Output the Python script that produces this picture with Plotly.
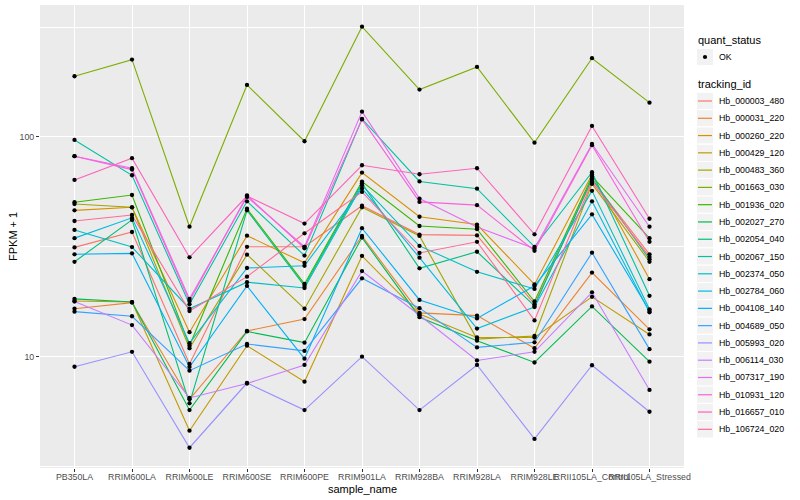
import math
import plotly.graph_objects as go

# ---------------- data ----------------
samples = ["PB350LA", "RRIM600LA", "RRIM600LE", "RRIM600SE", "RRIM600PE",
           "RRIM901LA", "RRIM928BA", "RRIM928LA", "RRIM928LE",
           "RRII105LA_Control", "RRII105LA_Stressed"]

tracking_ids = ["Hb_000003_480", "Hb_000031_220", "Hb_000260_220", "Hb_000429_120",
                "Hb_000483_360", "Hb_001663_030", "Hb_001936_020", "Hb_002027_270",
                "Hb_002054_040", "Hb_002067_150", "Hb_002374_050", "Hb_002784_060",
                "Hb_004108_140", "Hb_004689_050", "Hb_005993_020", "Hb_006114_030",
                "Hb_007317_190", "Hb_010931_120", "Hb_016657_010", "Hb_106724_020"]

quant_status = ["OK"]

# FPKM + 1 per sample (order of `samples`)
hb_000003_480 = [31.4, 36.9, 9.24, 31.6, 31.6, 48.6, 35.9, 35.6, 17.3, 63.7, 29.2]
hb_000031_220 = [16.5, 17.6, 6.38, 13.07, 14.8, 35.4, 15.8, 15.35, 10.9, 24.1, 13.3]
hb_000260_220 = [46.3, 47.8, 12.9, 35.5, 26.7, 68.8, 43.3, 39.9, 21.3, 67.5, 22.5]
hb_000429_120 = [17.9, 17.7, 4.59, 11.2, 7.68, 28.7, 15.6, 12.2, 12.2, 18.7, 12.6]
hb_000483_360 = [49.5, 47.8, 10.9, 29.1, 16.5, 47.8, 35.4, 12.0, 12.4, 61.1, 27.0]
hb_001663_030 = [189.0, 225.0, 39.0, 172.5, 95.6, 318.0, 164.3, 208.4, 94.2, 228.4, 143.3]
hb_001936_020 = [50.4, 54.4, 11.2, 47.1, 21.4, 62.6, 39.3, 38.0, 17.8, 66.1, 34.6]
hb_002027_270 = [18.3, 17.7, 5.70, 13.0, 11.56, 34.8, 15.1, 11.8, 9.39, 16.9, 9.47]
hb_002054_040 = [27.0, 41.9, 6.12, 46.3, 20.96, 61.5, 25.2, 30.0, 17.0, 64.7, 27.7]
hb_002067_150 = [96.9, 66.9, 17.3, 50.9, 28.8, 120.8, 62.7, 58.1, 31.6, 69.1, 18.9]
hb_002374_050 = [37.7, 31.5, 16.5, 21.8, 20.5, 60.3, 31.9, 24.3, 20.3, 56.8, 16.4]
hb_002784_060 = [34.6, 42.8, 11.5, 25.3, 25.9, 58.3, 28.2, 13.4, 16.8, 50.9, 15.9]
hb_004108_140 = [29.2, 29.5, 8.96, 20.96, 9.77, 38.4, 18.1, 14.9, 21.0, 44.4, 16.1]
hb_004689_050 = [16.0, 15.25, 8.62, 11.4, 10.6, 22.7, 16.6, 11.0, 11.6, 29.7, 10.8]
hb_005993_020 = [8.98, 10.5, 3.84, 7.57, 5.70, 9.98, 5.70, 9.15, 4.21, 9.12, 5.60]
hb_006114_030 = [17.8, 13.9, 6.47, 7.53, 9.15, 24.5, 15.4, 9.59, 10.5, 19.6, 7.04]
hb_007317_190 = [81.7, 72.0, 18.3, 53.3, 31.6, 130.4, 52.4, 38.9, 31.0, 92.9, 39.0]
hb_010931_120 = [81.7, 71.0, 17.9, 54.1, 31.1, 120.2, 50.6, 48.9, 30.3, 91.7, 33.3]
hb_016657_010 = [63.7, 80.0, 28.3, 53.8, 40.3, 74.3, 67.6, 72.0, 36.0, 112.2, 42.4]
hb_106724_020 = [41.4, 44.1, 16.1, 23.1, 36.4, 56.2, 29.6, 33.3, 14.6, 62.4, 28.4]

series = [hb_000003_480, hb_000031_220, hb_000260_220, hb_000429_120, hb_000483_360,
          hb_001663_030, hb_001936_020, hb_002027_270, hb_002054_040, hb_002067_150,
          hb_002374_050, hb_002784_060, hb_004108_140, hb_004689_050, hb_005993_020,
          hb_006114_030, hb_007317_190, hb_010931_120, hb_016657_010, hb_106724_020]

y_ticks = [10, 100]
y_tick_labels = ["10", "100"]


# ---------------- ggplot hue palette ----------------
def hcl_hex(h, c=100.0, l=65.0):
    Xn, Yn, Zn = 95.047, 100.0, 108.883
    un = 4 * Xn / (Xn + 15 * Yn + 3 * Zn)
    vn = 9 * Yn / (Xn + 15 * Yn + 3 * Zn)
    u = c * math.cos(math.radians(h))
    v = c * math.sin(math.radians(h))
    Y = Yn * ((l + 16) / 116) ** 3 if l > 8 else Yn * l / 903.3
    up = u / (13 * l) + un
    vp = v / (13 * l) + vn
    X = Y * 9 * up / (4 * vp)
    Z = Y * (12 - 3 * up - 20 * vp) / (4 * vp)
    X, Y, Z = X / 100, Y / 100, Z / 100
    r = 3.240479 * X - 1.537150 * Y - 0.498535 * Z
    g = -0.969256 * X + 1.875992 * Y + 0.041556 * Z
    b = 0.055648 * X - 0.204043 * Y + 1.057311 * Z

    def gam(t):
        t = 12.92 * t if t <= 0.0031308 else 1.055 * t ** (1 / 2.4) - 0.055
        return max(0, min(255, round(t * 255)))
    return "#%02X%02X%02X" % (gam(r), gam(g), gam(b))


n = len(tracking_ids)
colors = [hcl_hex(15 + 360 * i / n) for i in range(n)]

FONT = "Liberation Sans, Arial, Helvetica, sans-serif"

fig = go.Figure()
for tid, vals, col in zip(tracking_ids, series, colors):
    fig.add_trace(go.Scatter(x=samples, y=vals, mode="lines", name=tid,
                             line=dict(color=col, width=1.1), showlegend=False))
for tid, vals in zip(tracking_ids, series):
    fig.add_trace(go.Scatter(x=samples, y=vals, mode="markers", name=tid,
                             marker=dict(color="black", size=4.3), showlegend=False))

# ---------------- layout geometry (pixels) ----------------
W, H = 800, 500
PL, PR, PT, PB = 40, 684, 5, 468


def px(x):
    return (x - PL) / (PR - PL)


def py(y):
    return (PB - y) / (PB - PT)


shapes = []
annotations = []

# legend: quant_status
annotations.append(dict(x=px(696), y=py(40.5), xref="paper", yref="paper", text="quant_status",
                        showarrow=False, xanchor="left", yanchor="middle",
                        font=dict(size=11, color="black", family=FONT)))
kx0, kx1 = 696.5, 713.5
ky = 57.0
shapes.append(dict(type="rect", xref="paper", yref="paper",
                   x0=px(kx0), x1=px(kx1), y0=py(ky - 8.6), y1=py(ky + 8.6),
                   fillcolor="#F2F2F2", line=dict(color="white", width=1)))
r = 2.1
shapes.append(dict(type="circle", xref="paper", yref="paper",
                   x0=px(705 - r), x1=px(705 + r), y0=py(ky - r), y1=py(ky + r),
                   fillcolor="black", line=dict(color="black", width=0)))
annotations.append(dict(x=px(716.5), y=py(ky), xref="paper", yref="paper", text=quant_status[0],
                        showarrow=False, xanchor="left", yanchor="middle",
                        font=dict(size=8.8, color="black", family=FONT)))

# legend: tracking_id
annotations.append(dict(x=px(696), y=py(84.5), xref="paper", yref="paper", text="tracking_id",
                        showarrow=False, xanchor="left", yanchor="middle",
                        font=dict(size=11, color="black", family=FONT)))
step = 17.28
for i, (tid, col) in enumerate(zip(tracking_ids, colors)):
    cy = 101.0 + step * i
    shapes.append(dict(type="rect", xref="paper", yref="paper",
                       x0=px(kx0), x1=px(kx1), y0=py(cy - step / 2), y1=py(cy + step / 2),
                       fillcolor="#F2F2F2", line=dict(color="white", width=1)))
    shapes.append(dict(type="line", xref="paper", yref="paper",
                       x0=px(698), x1=px(712), y0=py(cy), y1=py(cy),
                       line=dict(color=col, width=1.2)))
    annotations.append(dict(x=px(716.5), y=py(cy), xref="paper", yref="paper", text=tid,
                            showarrow=False, xanchor="left", yanchor="middle",
                            font=dict(size=8.8, color="black", family=FONT)))

# axis titles
annotations.append(dict(x=px(362), y=py(488.5), xref="paper", yref="paper", text="sample_name",
                        showarrow=False, xanchor="center", yanchor="middle",
                        font=dict(size=11, color="black", family=FONT)))
annotations.append(dict(x=px(12.5), y=py(236.5), xref="paper", yref="paper", text="FPKM + 1",
                        showarrow=False, xanchor="center", yanchor="middle", textangle=-90,
                        font=dict(size=11, color="black", family=FONT)))

fig.update_layout(
    width=W, height=H, autosize=False,
    margin=dict(l=PL, r=W - PR, t=PT, b=H - PB, pad=0),
    paper_bgcolor="white", plot_bgcolor="#EBEBEB",
    font=dict(family=FONT, size=8.8, color="#4D4D4D"),
    shapes=shapes, annotations=annotations, showlegend=False,
    xaxis=dict(type="category", categoryorder="array", categoryarray=samples,
               range=[-0.6, len(samples) - 0.4], showgrid=True, gridcolor="white", gridwidth=1.1,
               zeroline=False, showline=False, ticks="outside", ticklen=3, tickwidth=1,
               tickcolor="#333333", tickangle=0, ticklabelstandoff=-3,
               tickfont=dict(size=8.8, color="#4D4D4D", family=FONT)),
    yaxis=dict(type="log", range=[0.492, 2.601], tickmode="array", tickvals=y_ticks,
               ticktext=y_tick_labels, showgrid=True, gridcolor="white", gridwidth=1.1,
               zeroline=False, showline=False, ticks="outside", ticklen=3, tickwidth=1,
               tickcolor="#333333", tickfont=dict(size=8.8, color="#4D4D4D", family=FONT),
               minor=dict(tickmode="array", tickvals=[10 ** 0.5, 10 ** 1.5, 10 ** 2.5],
                          showgrid=True, gridcolor="white", gridwidth=0.5, ticks="")),
)

fig.write_html("out.html", config={"displayModeBar": False},
               post_script="document.body.style.margin='0';document.body.style.padding='0';")
